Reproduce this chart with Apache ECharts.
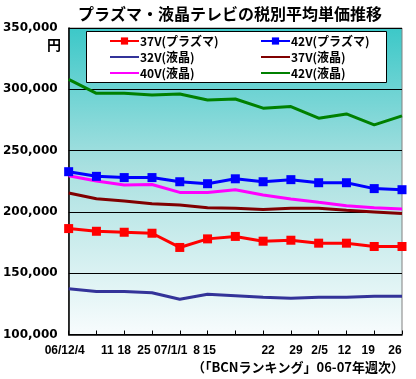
<!DOCTYPE html>
<html><head><meta charset="utf-8">
<script src="https://cdn.jsdelivr.net/npm/echarts@6/dist/echarts.min.js"></script>
<style>html,body{margin:0;padding:0;background:#fff}#c{width:416px;height:379px}</style>
</head><body><div id="c"></div>
<script>
const categories = ['06/12/4','11','18','25','07/1/1','8','15','22','29','2/5','12','19','26'];
const yTicks = [100000,150000,200000,250000,300000,350000];
const plasma37 = [186400,184200,183400,182600,171000,178000,180000,176100,176900,174500,174500,171800,171800];
const plasma42 = [232800,229000,228000,228000,224600,223000,227000,224600,226300,223800,223800,219000,218100];
const lcd32 = [137400,135000,135000,134100,128700,132800,131700,130300,129500,130300,130300,131100,131100];
const lcd37 = [215400,210800,208900,206700,205700,203300,202900,201900,202900,202900,201300,200000,198600];
const lcd40 = [229500,225200,222000,222400,215900,215900,218100,213800,210600,207800,205100,203300,202400];
const lcd42 = [308100,296700,296700,295400,296200,291300,292100,284600,285900,276400,279900,271000,278300];
const seriesNames = ['37V(プラズマ)','42V(プラズマ)','32V(液晶)','37V(液晶)','40V(液晶)','42V(液晶)'];

// label nudges (pixels) to mimic the reference's text placement under ticks
const xShift = [-4,11,0,-8,-9,-11,-26,5,5,1,-2,-6,-7];

const chart = echarts.init(document.getElementById('c'), null, {renderer:'canvas'});
const rich = {};
xShift.forEach((s,i)=>{
  rich['s'+i] = {fontFamily:'Liberation Sans', fontWeight:'bold', fontSize:12, color:'#000',
    padding: s>=0 ? [0,0,0,2*s] : [0,-2*s,0,0]};
});
function fmt(v){ return v.toString().replace(/\B(?=(\d{3})+(?!\d))/g, ','); }
function mk(name, data, color, sym){
  return {name, type:'line', data, symbol: sym ? 'rect' : 'none', symbolSize: 9,
    showSymbol: !!sym, lineStyle:{color, width:3}, itemStyle:{color}, z:2, animation:false};
}
function li(name, sym){ return sym ? {name} : {name, itemStyle:{opacity:0}}; }
const legendCommon = {orient:'vertical', top:30, itemWidth:29, itemHeight:9, itemGap:4,
  textStyle:{fontFamily:'Noto Sans CJK JP', fontWeight:'bold', fontSize:12, color:'#000', padding:[0,0,0,-4]},
  z:5};
chart.setOption({
  animation:false,
  backgroundColor:'#fff',
  title:{text:'プラズマ・液晶テレビの税別平均単価推移', left:225, top:1, textAlign:'center',
    textStyle:{fontFamily:'Noto Sans CJK JP', fontWeight:'bold', fontSize:16, color:'#000'}},
  grid:{left:66, right:14, top:28, bottom:44.5, show:true, borderColor:'#808080', borderWidth:1,
    backgroundColor: new echarts.graphic.LinearGradient(0,0,0,1,[
      {offset:0, color:'#3cc8c8'},{offset:0.45, color:'#a8e0e0'},{offset:1, color:'#f8fcfd'}])},
  legend:[
    Object.assign({left:104, data:[li(seriesNames[0],true),li(seriesNames[2]),li(seriesNames[4])]}, legendCommon),
    Object.assign({left:255, data:[li(seriesNames[1],true),li(seriesNames[3]),li(seriesNames[5])]}, legendCommon)
  ],
  xAxis:{type:'category', data:categories, boundaryGap:false,
    axisLine:{lineStyle:{color:'#000', width:1.5}},
    axisTick:{show:true, inside:true, length:4, lineStyle:{color:'#000'}},
    axisLabel:{interval:0, margin:10, formatter:(v,i)=>'{s'+i+'|'+v+'}', rich,
      fontFamily:'Liberation Sans', fontWeight:'bold', fontSize:12, color:'#000'},
    splitLine:{show:false}},
  yAxis:{type:'value', min:yTicks[0], max:yTicks[yTicks.length-1], interval:50000,
    axisLine:{show:true, lineStyle:{color:'#000', width:1.5}},
    axisTick:{show:false},
    axisLabel:{margin:11, formatter:fmt, fontFamily:'DejaVu Sans', fontWeight:'bold', fontSize:12, color:'#000'},
    splitLine:{show:true, lineStyle:{color:'#000', width:1}}},
  graphic:[
    {type:'rect', shape:{x:86.5, y:31.5, width:300, height:51}, style:{fill:'#fff', stroke:'#000', lineWidth:1}, z:4},
    {type:'text', x:61, y:45, style:{text:'円', fontFamily:'Noto Sans CJK JP', fontWeight:'bold', fontSize:14, fill:'#000', align:'right', verticalAlign:'middle'}},
    {type:'text', x:404, y:367, style:{text:'（「BCNランキング」06-07年週次）', fontFamily:'Noto Sans CJK JP', fontWeight:'bold', fontSize:13, fill:'#000', align:'right', verticalAlign:'middle'}}
  ],
  series:[
    mk(seriesNames[2], lcd32, '#333399', false),
    mk(seriesNames[3], lcd37, '#800000', false),
    mk(seriesNames[4], lcd40, '#ff00ff', false),
    mk(seriesNames[5], lcd42, '#008000', false),
    mk(seriesNames[0], plasma37, '#ff0000', true),
    mk(seriesNames[1], plasma42, '#0000ff', true)
  ]
});
</script></body></html>
